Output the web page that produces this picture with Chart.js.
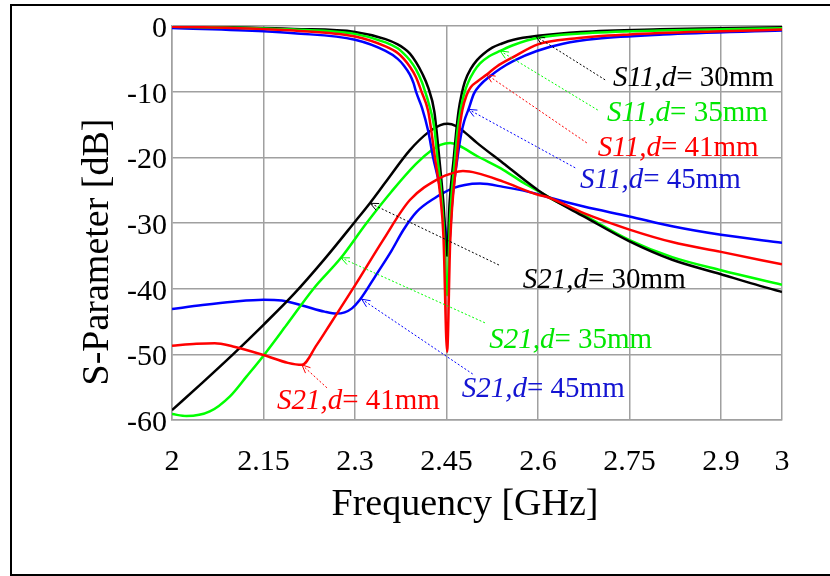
<!DOCTYPE html>
<html>
<head>
<meta charset="utf-8">
<script src="https://cdn.jsdelivr.net/npm/chart.js@4/dist/chart.umd.min.js"></script>
<style>
  html, body { margin: 0; padding: 0; background: #fff; }
  #wrap { width: 830px; height: 576px; }
</style>
</head>
<body>
<div id="wrap"><canvas id="c" width="830" height="576"></canvas></div>
<script>
// ---------- Axis ticks ----------
const xTickValues = [2, 2.15, 2.3, 2.45, 2.6, 2.75, 2.9, 3];
const xTickLabels = ['2', '2.15', '2.3', '2.45', '2.6', '2.75', '2.9', '3'];
const yTickValues = [0, -10, -20, -30, -40, -50, -60];
const xTitle = 'Frequency [GHz]';
const yTitle = 'S-Parameter [dB]';

// ---------- S11 series (frequency in GHz, value in dB) ----------
const fS11_30 = [2.0, 2.1, 2.2, 2.3, 2.35, 2.37, 2.38, 2.39, 2.40, 2.41, 2.42, 2.43, 2.438, 2.445, 2.451, 2.455, 2.462, 2.466, 2.47, 2.475, 2.48, 2.49, 2.5, 2.51, 2.525, 2.54, 2.56, 2.6, 2.67, 2.8, 2.9, 3.0];
const s11_30  = [-0.05, -0.2, -0.45, -0.9, -2.0, -2.8, -3.4, -4.2, -5.5, -7.2, -9.4, -13, -20, -27, -35, -27, -20, -16, -12.8, -10.3, -8.5, -6.5, -5.2, -4.3, -3.3, -2.7, -2.1, -1.5, -0.9, -0.5, -0.35, -0.2];

const fS11_35 = [2.0, 2.1, 2.2, 2.3, 2.35, 2.37, 2.38, 2.39, 2.40, 2.41, 2.415, 2.42, 2.43, 2.435, 2.44, 2.445, 2.451, 2.456, 2.464, 2.468, 2.473, 2.479, 2.485, 2.495, 2.505, 2.52, 2.538, 2.56, 2.6, 2.67, 2.8, 3.0];
const s11_35  = [-0.1, -0.25, -0.55, -1.2, -2.5, -3.4, -4.2, -5.2, -6.6, -8.6, -10, -11.5, -15.5, -20, -24, -30, -41, -29, -20, -16, -12.8, -10.3, -8.7, -6.9, -5.7, -4.6, -3.8, -2.9, -1.8, -1.15, -0.7, -0.35];

const fS11_41 = [2.0, 2.1, 2.2, 2.3, 2.35, 2.37, 2.38, 2.39, 2.40, 2.409, 2.42, 2.431, 2.44, 2.445, 2.451, 2.456, 2.467, 2.471, 2.476, 2.483, 2.49, 2.5, 2.516, 2.532, 2.56, 2.6, 2.66, 2.75, 2.9, 3.0];
const s11_41  = [-0.1, -0.3, -0.7, -1.6, -3.1, -4.1, -5.0, -6.2, -7.8, -10, -13, -20, -26, -32, -49.6, -33, -20, -16, -12.8, -10.5, -9.3, -8.5, -7.4, -6.2, -4.7, -2.8, -1.9, -1.3, -0.8, -0.55];

const fS11_45 = [2.0, 2.15, 2.2, 2.3, 2.35, 2.37, 2.38, 2.39, 2.396, 2.40, 2.41, 2.42, 2.428, 2.44, 2.447, 2.453, 2.46, 2.469, 2.474, 2.479, 2.486, 2.495, 2.505, 2.522, 2.538, 2.56, 2.598, 2.641, 2.696, 2.805, 3.0];
const s11_45  = [-0.3, -0.8, -1.1, -2.1, -3.8, -5.0, -6.0, -7.4, -8.7, -10, -12.5, -16, -20, -25, -30, -33.8, -26, -19.4, -16.5, -14.5, -12.7, -10.3, -9.0, -7.6, -6.5, -5.3, -3.8, -2.7, -1.95, -1.3, -0.7];

// ---------- S21 series ----------
const fS21_30 = [2.0, 2.05, 2.1, 2.15, 2.2, 2.25, 2.3, 2.325, 2.35, 2.39, 2.42, 2.44, 2.452, 2.465, 2.48, 2.5, 2.543, 2.58, 2.6, 2.62, 2.675, 2.75, 2.82, 2.9, 2.95, 3.0];
const s21_30  = [-58.5, -54.3, -50, -45.5, -40.8, -35.5, -29.8, -26.9, -23.8, -18.9, -16.2, -15.1, -14.9, -15.2, -16.2, -17.8, -20.9, -23.6, -25.0, -26.2, -29.0, -32.8, -35.6, -37.8, -39.2, -40.5];

const fS21_35 = [2.0, 2.024, 2.062, 2.095, 2.122, 2.15, 2.188, 2.232, 2.277, 2.319, 2.36, 2.4, 2.426, 2.44, 2.456, 2.47, 2.5, 2.543, 2.58, 2.6, 2.62, 2.675, 2.75, 2.82, 2.9, 3.0];
const s21_35  = [-59.1, -59.4, -58.7, -56.4, -53.4, -50.2, -45.5, -40, -35.3, -30, -25.2, -21, -18.9, -18.1, -17.8, -18.2, -19.8, -21.9, -24.1, -25.1, -26.2, -28.8, -32.6, -35.2, -37.2, -39.4];

const fS21_41 = [2.0, 2.04, 2.07, 2.1, 2.15, 2.19, 2.213, 2.237, 2.26, 2.3, 2.346, 2.39, 2.438, 2.46, 2.477, 2.5, 2.543, 2.6, 2.614, 2.675, 2.75, 2.82, 2.9, 3.0];
const s21_41  = [-48.7, -48.4, -48.3, -48.8, -50.1, -51.3, -51.6, -48.6, -45.3, -39.5, -32.6, -26.5, -23.2, -22.4, -22.1, -22.4, -23.7, -25.7, -26.0, -28.5, -31.0, -32.9, -34.4, -36.3];

const fS21_45 = [2.0, 2.05, 2.1, 2.15, 2.18, 2.215, 2.25, 2.27, 2.283, 2.295, 2.308, 2.336, 2.36, 2.379, 2.401, 2.434, 2.445, 2.461, 2.48, 2.505, 2.543, 2.6, 2.614, 2.675, 2.75, 2.82, 2.9, 3.0];
const s21_45  = [-43.1, -42.5, -42.0, -41.7, -41.8, -42.6, -43.5, -43.8, -43.6, -43.0, -41.7, -37.7, -34.2, -31.1, -28.3, -26.0, -25.4, -24.7, -24.2, -24.0, -24.5, -25.6, -26.0, -27.5, -29.0, -30.5, -31.8, -33.0];

// ---------- Callout labels (data coordinates: label left/baseline, arrow tail, arrow tip) ----------
const calloutItalic = ['S11,d', 'S11,d', 'S11,d', 'S11,d', 'S21,d', 'S21,d', 'S21,d', 'S21,d'];
const calloutText   = ['= 30mm', '= 35mm', '= 41mm', '= 45mm', '= 30mm', '= 35mm', '= 41mm', '= 45mm'];
const calloutAt     = [[2.723, -9.1], [2.713, -14.5], [2.698, -19.8], [2.669, -24.7], [2.575, -39.9], [2.520, -49.0], [2.172, -58.3], [2.475, -56.5]];
const calloutTail   = [[2.710, -8.2], [2.698, -12.8], [2.680, -17.8], [2.661, -21.6], [2.536, -36.4], [2.513, -45.2], [2.254, -55.1], [2.493, -53.0]];
const calloutTip    = [[2.597, -1.6], [2.538, -3.8], [2.516, -7.4], [2.486, -12.7], [2.325, -27.0], [2.277, -35.3], [2.213, -51.6], [2.311, -41.6]];

// ---------- Styles ----------
const COL_K = '#000000', COL_G = '#00ff00', COL_R = '#ff0000', COL_B = '#0000ff';
const textColors = ['#000000', '#00e600', '#ff0000', '#1414d2', '#000000', '#00e600', '#ff0000', '#1414d2'];
const lineColors = [COL_K, COL_G, COL_R, COL_B, COL_K, COL_G, COL_R, COL_B];
const SERIF = '"Liberation Serif", "Times New Roman", serif';

function pts(xs, ys) { return xs.map((x, i) => ({ x: x, y: ys[i] })); }
function ds(label, xs, ys, color, order) {
  return {
    label: label, data: pts(xs, ys), borderColor: color, backgroundColor: color,
    borderWidth: 2.5, pointRadius: 0, fill: false, cubicInterpolationMode: 'monotone',
    order: order
  };
}

const decor = {
  id: 'decor',
  beforeDraw(chart) {
    const ctx = chart.ctx;
    ctx.save();
    ctx.fillStyle = '#ffffff';
    ctx.fillRect(0, 0, chart.width, chart.height);
    ctx.restore();
  },
  afterDraw(chart) {
    const ctx = chart.ctx;
    const xs = chart.scales.x, ys = chart.scales.y;
    ctx.save();
    // outer frame
    ctx.strokeStyle = '#000';
    ctx.lineWidth = 2;
    ctx.strokeRect(11, 5, 840, 570);
    // axis titles
    ctx.fillStyle = '#000';
    ctx.font = '38px ' + SERIF;
    ctx.textAlign = 'center';
    ctx.textBaseline = 'middle';
    ctx.fillText(xTitle, 465, 505);
    ctx.save();
    ctx.translate(98, 252);
    ctx.rotate(-Math.PI / 2);
    ctx.fillText(yTitle, 0, 0);
    ctx.restore();
    // callouts
    for (let i = 0; i < calloutText.length; i++) {
      const tx = xs.getPixelForValue(calloutTail[i][0]), ty = ys.getPixelForValue(calloutTail[i][1]);
      const px = xs.getPixelForValue(calloutTip[i][0]), py = ys.getPixelForValue(calloutTip[i][1]);
      ctx.strokeStyle = lineColors[i];
      ctx.lineWidth = 1;
      ctx.setLineDash([2, 2]);
      ctx.beginPath(); ctx.moveTo(tx, ty); ctx.lineTo(px, py); ctx.stroke();
      ctx.setLineDash([]);
      const ang = Math.atan2(ty - py, tx - px);
      const L = 9, spread = 0.42;
      ctx.beginPath();
      ctx.moveTo(px + L * Math.cos(ang + spread), py + L * Math.sin(ang + spread));
      ctx.lineTo(px, py);
      ctx.lineTo(px + L * Math.cos(ang - spread), py + L * Math.sin(ang - spread));
      ctx.stroke();
      const lx = xs.getPixelForValue(calloutAt[i][0]), ly = ys.getPixelForValue(calloutAt[i][1]);
      ctx.fillStyle = textColors[i];
      ctx.textAlign = 'left';
      ctx.textBaseline = 'alphabetic';
      ctx.font = 'italic 29px ' + SERIF;
      ctx.fillText(calloutItalic[i], lx, ly);
      const w = ctx.measureText(calloutItalic[i]).width;
      ctx.font = '29px ' + SERIF;
      ctx.fillText(calloutText[i], lx + w, ly);
    }
    ctx.restore();
  }
};

new Chart(document.getElementById('c'), {
  type: 'line',
  data: {
    datasets: [
      ds('S11, d=30mm', fS11_30, s11_30, COL_K, 3),
      ds('S11, d=35mm', fS11_35, s11_35, COL_G, 2),
      ds('S11, d=41mm', fS11_41, s11_41, COL_R, 0),
      ds('S11, d=45mm', fS11_45, s11_45, COL_B, 4),
      ds('S21, d=30mm', fS21_30, s21_30, COL_K, 5),
      ds('S21, d=35mm', fS21_35, s21_35, COL_G, 6),
      ds('S21, d=41mm', fS21_41, s21_41, COL_R, 1),
      ds('S21, d=45mm', fS21_45, s21_45, COL_B, 7)
    ]
  },
  options: {
    responsive: false,
    animation: false,
    devicePixelRatio: 1,
    layout: { padding: { left: 0, top: 26, right: 48, bottom: 0 } },
    plugins: { legend: { display: false }, tooltip: { enabled: false }, title: { display: false } },
    scales: {
      x: {
        type: 'linear', min: 2, max: 3,
        afterBuildTicks: (s) => { s.ticks = xTickValues.map(v => ({ value: v })); },
        afterFit: (s) => { s.height = 156; },
        ticks: {
          autoSkip: false, maxRotation: 0, color: '#000', padding: 24,
          font: { family: SERIF, size: 30 },
          callback: (v) => { const i = xTickValues.indexOf(v); return i >= 0 ? xTickLabels[i] : ''; }
        },
        grid: { color: '#a0a0a0', lineWidth: 1.5, drawTicks: false },
        border: { display: true, color: '#a0a0a0', width: 1.5 }
      },
      y: {
        type: 'linear', min: -60, max: 0,
        afterBuildTicks: (s) => { s.ticks = yTickValues.map(v => ({ value: v })); },
        afterFit: (s) => { s.width = 172; },
        ticks: {
          autoSkip: false, color: '#000', padding: 5, labelOffset: 3,
          font: { family: SERIF, size: 30 },
          callback: (v) => String(v)
        },
        grid: { color: '#a0a0a0', lineWidth: 1.5, drawTicks: false },
        border: { display: true, color: '#a0a0a0', width: 1.5 }
      }
    }
  },
  plugins: [decor]
});
</script>
</body>
</html>
